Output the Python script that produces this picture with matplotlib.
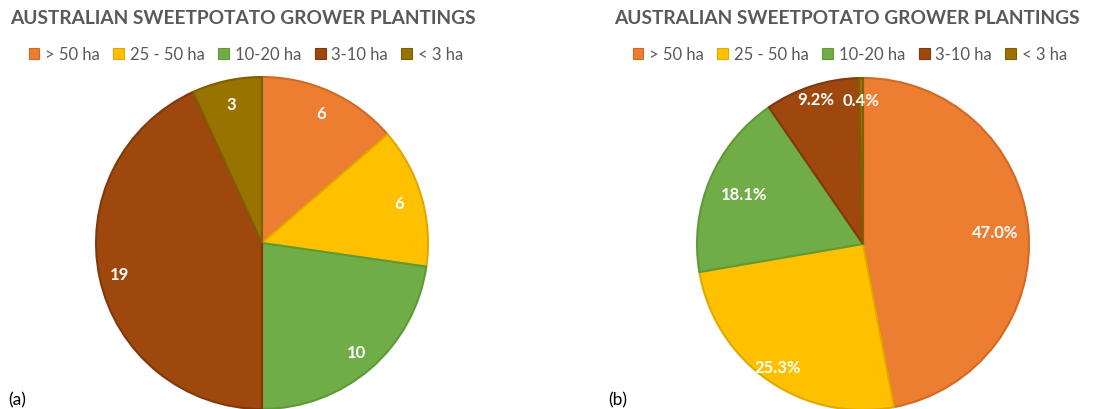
import matplotlib
matplotlib.use("Agg")
import matplotlib.pyplot as plt
from matplotlib.patches import Patch
import numpy as np

categories = ["> 50 ha", "25 - 50 ha", "10-20 ha", "3-10 ha", "< 3 ha"]
growers = [6, 6, 10, 19, 3]
area_pct = [47.0, 25.3, 18.1, 9.2, 0.4]
title = "AUSTRALIAN SWEETPOTATO GROWER PLANTINGS"
colors = ["#ED7D31", "#FFC000", "#70AD47", "#9E480E", "#997300"]
edge_colors = ["#D06A25", "#E0A800", "#5E9A38", "#83380A", "#7F5F00"]

plt.rcParams['font.family'] = ['Lato', 'DejaVu Sans']
W, H = 1111, 410
fig = plt.figure(figsize=(W/100, H/100), dpi=100)
GRAY = "#595959"

def make_pie(cx, cy, r, values, labels, label_r):
    ax = fig.add_axes([(cx - r)/W, (H - cy - r)/H, 2*r/W, 2*r/H])
    wedges, _ = ax.pie(values, colors=colors, startangle=90, counterclock=False,
                       radius=1, wedgeprops=dict(linewidth=1.5))
    for w, ec in zip(wedges, edge_colors):
        w.set_edgecolor(ec)
    total = sum(values)
    ang = 90.0
    for v, lab, lr in zip(values, labels, label_r):
        mid = ang - v/total*360/2
        ang -= v/total*360
        ax.text(lr*np.cos(np.radians(mid)), lr*np.sin(np.radians(mid)), lab,
                ha="center", va="center", color="white", fontsize=12, fontweight="bold")
    ax.set_xlim(-1, 1)
    ax.set_ylim(-1, 1)
    ax.axis("off")
    return ax

make_pie(262, 244, 166, growers, [str(v) for v in growers], [0.86, 0.86, 0.87, 0.88, 0.86])
make_pie(863, 245, 166, area_pct, [f"{v:.1f}%" for v in area_pct], [0.8, 0.9, 0.78, 0.92, 0.87])

fig.text(243/W, 1 - 19/H, title, ha="center", va="center", fontsize=13.8, fontweight="bold", color=GRAY)
fig.text(847/W, 1 - 19/H, title, ha="center", va="center", fontsize=13.8, fontweight="bold", color=GRAY)

handles = [Patch(facecolor=c, edgecolor=ec, linewidth=0.8) for c, ec in zip(colors, edge_colors)]
for cx in (246, 850):
    fig.legend(handles, categories, loc="center", bbox_to_anchor=(cx/W, 1 - 55/H), ncol=5,
               frameon=False, fontsize=12, labelcolor=GRAY, handlelength=0.65, handleheight=0.65,
               handletextpad=0.35, columnspacing=0.8, borderpad=0)

fig.text(8/W, 1 - 400/H, "(a)", ha="left", va="center", fontsize=12.5, color="black")
fig.text(608/W, 1 - 400/H, "(b)", ha="left", va="center", fontsize=12.5, color="black")

fig.savefig("out.png", dpi=100, facecolor="white")
